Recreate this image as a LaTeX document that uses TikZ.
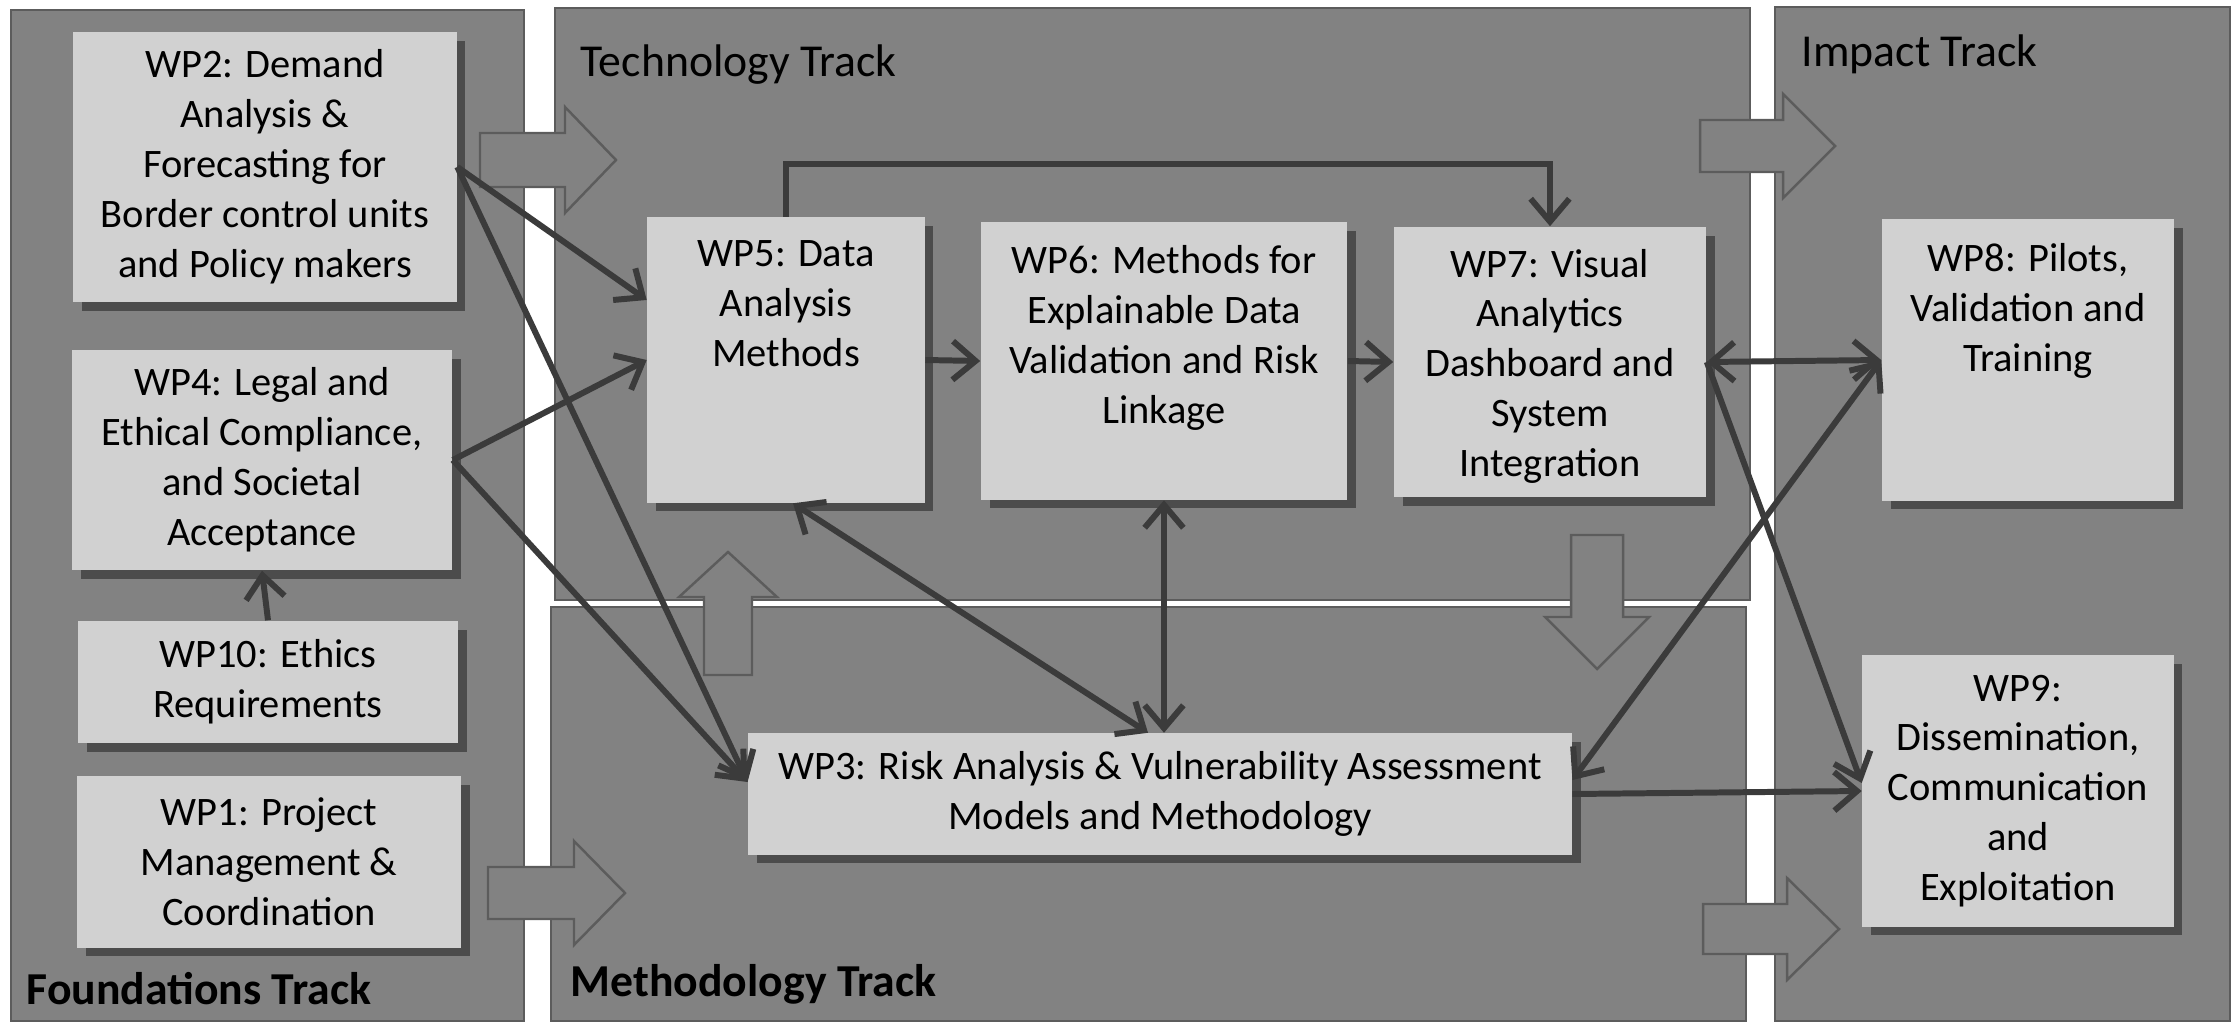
\documentclass[tikz,border=0pt]{standalone}
\usepackage{fontspec}
\setmainfont{Carlito}
\usepackage{tikz}
\usetikzlibrary{arrows.meta}
\usetikzlibrary{positioning}
\definecolor{trackgray}{rgb}{0.51, 0.51, 0.51}
\definecolor{trackline}{rgb}{0.36, 0.36, 0.36}
\definecolor{wpgray}{rgb}{0.82, 0.82, 0.82}
\definecolor{linkgray}{rgb}{0.23, 0.23, 0.23}
\definecolor{shadegray}{rgb}{0.30, 0.30, 0.30}
\tikzset{track/.style = {fill=trackgray, draw=trackline, line width=0.6pt},
         tracktitle/.style = {anchor=base west, inner sep=0pt, font=\fontsize{13}{15}\selectfont},
         trackbold/.style = {tracktitle, font=\fontsize{13}{15}\selectfont\bfseries},
         wp/.style = {fill=wpgray, inner sep=0pt, align=center,
                      font=\fontsize{11.5}{14.2}\selectfont,
                      preaction={fill=shadegray, transform canvas={xshift=2.5pt, yshift=-2.5pt}}},
         wptext/.style = {inner sep=0pt, align=center, font=\fontsize{11.5}{14.2}\selectfont},
         flow/.style = {fill=trackgray, draw=trackline, line width=0.7pt},
         link/.style = {draw=linkgray, line width=1.7pt, -{Straight Barb[length=6.5pt, width=11pt]}},
         dlink/.style = {link, {Straight Barb[length=6.5pt, width=11pt]}-{Straight Barb[length=6.5pt, width=11pt]}}}

\begin{document}
\begin{tikzpicture}[x=0.01cm, y=-0.01cm]
    \useasboundingbox (0, 0) rectangle (2239, 1024);
    \fill[white] (0, 0) rectangle (2239, 1024);

    \draw[track] (11, 10) rectangle (524, 1021);
    \draw[track] (555, 8) rectangle (1750, 600);
    \draw[track] (551, 607) rectangle (1746, 1021);
    \draw[track] (1775, 7) rectangle (2230, 1021);

    \draw[flow] (480, 133) -- (565, 133) -- (565, 107) -- (616, 160) -- (565, 213) -- (565, 187) -- (480, 187) -- cycle;
    \draw[flow] (488, 867) -- (574, 867) -- (574, 841) -- (625, 893) -- (574, 945) -- (574, 919) -- (488, 919) -- cycle;
    \draw[flow] (1700, 120) -- (1783, 120) -- (1783, 94) -- (1835, 146) -- (1783, 198) -- (1783, 172) -- (1700, 172) -- cycle;
    \draw[flow] (1703, 904) -- (1787, 904) -- (1787, 878) -- (1839, 929) -- (1787, 980) -- (1787, 954) -- (1703, 954) -- cycle;
    \draw[flow] (704, 675) -- (704, 597) -- (679, 597) -- (728, 552) -- (777, 597) -- (752, 597) -- (752, 675) -- cycle;
    \draw[flow] (1571, 535) -- (1571, 617) -- (1545, 617) -- (1597, 669) -- (1649, 617) -- (1623, 617) -- (1623, 535) -- cycle;

    \node[wp, minimum width=3.83cm, minimum height=2.70cm] (wp2) at (265, 167) {WP2: Demand\\Analysis \&\\Forecasting for\\Border control units\\and Policy makers};
    \node[wp, minimum width=3.80cm, minimum height=2.20cm] (wp4) at (262, 460) {WP4: Legal and\\Ethical Compliance,\\and Societal\\Acceptance};
    \node[wp, minimum width=3.80cm, minimum height=1.22cm] (wp10) at (268, 682) {WP10: Ethics\\Requirements};
    \node[wp, minimum width=3.84cm, minimum height=1.71cm] (wp1) at (269, 862) {WP1: Project\\Management \&\\Coordination};
    \node[wp, minimum width=2.77cm, minimum height=2.85cm] (wp5) at (786, 360) {};
    \node[wptext, below=0.23cm of wp5.north] (wp5text) {WP5: Data\\Analysis\\Methods};
    \node[wp, minimum width=3.66cm, minimum height=2.77cm] (wp6) at (1164, 361) {};
    \node[wptext, below=0.23cm of wp6.north] (wp6text) {WP6: Methods for\\Explainable Data\\Validation and Risk\\Linkage};
    \node[wp, minimum width=3.12cm, minimum height=2.70cm] (wp7) at (1550, 362) {};
    \node[wptext, below=0.22cm of wp7.north] (wp7text) {WP7: Visual\\Analytics\\Dashboard and\\System\\Integration};
    \node[wp, minimum width=2.92cm, minimum height=2.81cm] (wp8) at (2028, 360) {};
    \node[wptext, below=0.24cm of wp8.north] (wp8text) {WP8: Pilots,\\Validation and\\Training};
    \node[wp, minimum width=3.11cm, minimum height=2.71cm] (wp9) at (2018, 791) {WP9:\\Dissemination,\\Communication\\and\\Exploitation};
    \node[wp, minimum width=8.23cm, minimum height=1.21cm] (wp3) at (1160, 794) {WP3: Risk Analysis \& Vulnerability Assessment\\Models and Methodology};

    \draw[link] (wp2.east) -- ([yshift=0.6cm]wp5.west);
    \draw[link] (wp2.east) -- ([yshift=0.12cm]wp3.west);
    \draw[link] (wp4.east) -- (wp5.west);
    \draw[link] (wp4.east) -- ([yshift=0.12cm]wp3.west);
    \draw[link] (wp10.north) -- (wp4.south);
    \draw[link] (wp5.north) -- ++(0, -53) -| (wp7.north);
    \draw[link] (wp5.east) -- (wp6.west);
    \draw[link] (wp6.east) -- (wp7.west);
    \draw[dlink] ([xshift=0.07cm]wp5.south) -- ([xshift=-0.12cm]wp3.north);
    \draw[dlink] (wp6.south) -- (wp6.south |- wp3.north);
    \draw[dlink] (wp7.east) -- (wp8.west);
    \draw[link] (wp7.east) -- ([yshift=0.08cm]wp9.west);
    \draw[link] (wp3.east) -- (wp9.west);
    \draw[dlink] ([yshift=0.14cm]wp3.east) -- (wp8.west);

    \node[tracktitle] (techtitle) at (580, 77) {Technology Track};
    \node[tracktitle] (impacttitle) at (1801, 67) {Impact Track};
    \node[trackbold] (foundtitle) at (26, 1004) {Foundations Track};
    \node[trackbold] (methtitle) at (570, 996) {Methodology Track};
\end{tikzpicture}
\end{document}
